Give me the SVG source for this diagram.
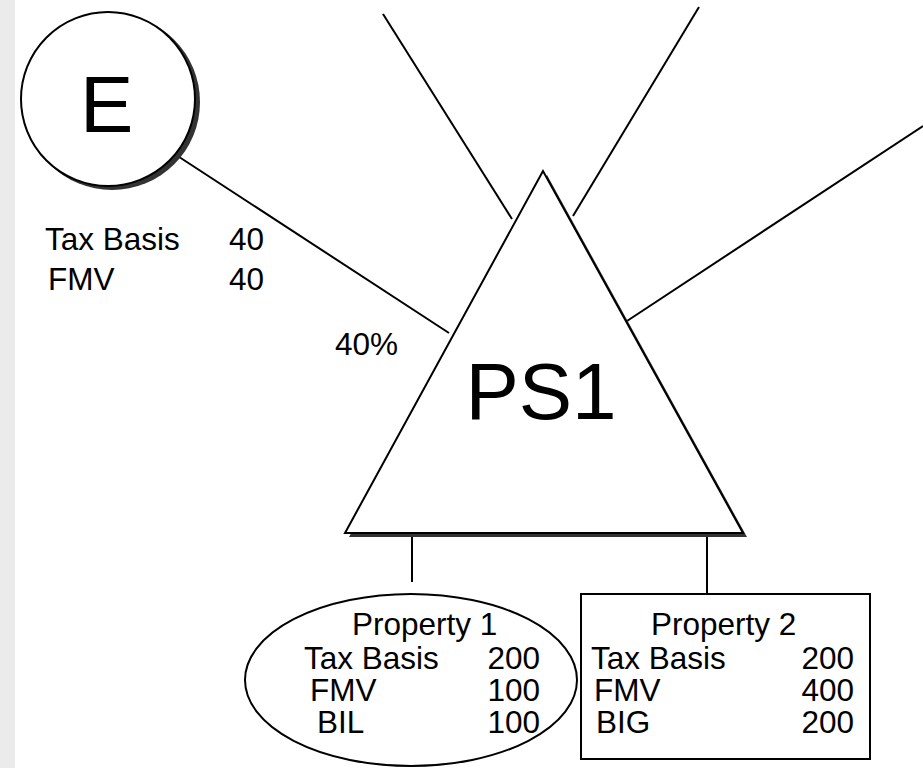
<svg xmlns="http://www.w3.org/2000/svg" width="923" height="768" viewBox="0 0 923 768">
<style>
text{font-family:"Liberation Sans",Arial,sans-serif;fill:#000}
.t{font-size:31.5px}
.big{font-size:80px}
.ln{stroke:#000;stroke-width:2;fill:none}
.sh{fill:#333;stroke:none}
.nd{fill:#fff;stroke:#000;stroke-width:2}
</style>
<rect x="0" y="0" width="923" height="768" fill="#fff"/>
<rect x="0" y="0" width="15" height="768" fill="#ebebeb"/>
<g id="connectors">
<line class="ln" x1="170" y1="151" x2="449" y2="333"/>
<line class="ln" x1="383" y1="14" x2="512" y2="219"/>
<line class="ln" x1="699" y1="7" x2="573" y2="216"/>
<line class="ln" x1="923" y1="126" x2="627" y2="321"/>
<line class="ln" x1="412" y1="536" x2="412" y2="582"/>
<line class="ln" x1="707" y1="536" x2="707" y2="594"/>
</g>
<g id="node-E">
<circle class="sh" cx="112" cy="102" r="88"/>
<circle class="nd" cx="108" cy="99" r="87"/>
<text class="big" x="80" y="132">E</text>
</g>
<g id="E-values">
<text class="t" x="45" y="250">Tax Basis</text>
<text class="t" x="229" y="250">40</text>
<text class="t" x="48" y="290">FMV</text>
<text class="t" x="229" y="290">40</text>
</g>
<g id="label-40pct">
<text class="t" x="335" y="355">40%</text>
</g>
<g id="node-PS1">
<polygon class="sh" points="547,175 349,537 747,537"/>
<polygon class="nd" points="543,171 345,533 743,533"/>
<text class="big" x="541" y="419" text-anchor="middle">PS1</text>
</g>
<g id="node-property1">
<ellipse class="nd" cx="411" cy="680" rx="166" ry="86"/>
<text class="t" x="352" y="635">Property 1</text>
<text class="t" x="304" y="669">Tax Basis</text>
<text class="t" x="540" y="669" text-anchor="end">200</text>
<text class="t" x="310" y="701">FMV</text>
<text class="t" x="540" y="701" text-anchor="end">100</text>
<text class="t" x="317" y="733">BIL</text>
<text class="t" x="540" y="733" text-anchor="end">100</text>
</g>
<g id="node-property2">
<rect class="nd" x="581" y="594" width="289" height="165"/>
<text class="t" x="651" y="635">Property 2</text>
<text class="t" x="591" y="669">Tax Basis</text>
<text class="t" x="854" y="669" text-anchor="end">200</text>
<text class="t" x="594" y="701">FMV</text>
<text class="t" x="854" y="701" text-anchor="end">400</text>
<text class="t" x="596" y="733">BIG</text>
<text class="t" x="854" y="733" text-anchor="end">200</text>
</g>
</svg>
